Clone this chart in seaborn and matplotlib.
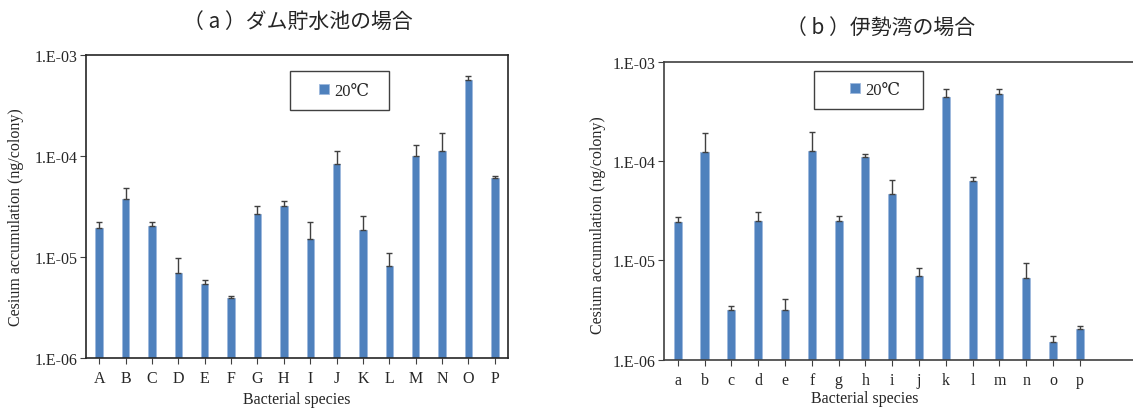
import numpy as np
import pandas as pd
import matplotlib
matplotlib.use("Agg")
import matplotlib.pyplot as plt
import seaborn as sns
from matplotlib.patches import Rectangle
from matplotlib.ticker import FixedLocator, FuncFormatter, NullLocator

# ---------------- data ----------------
species_a = list("ABCDEFGHIJKLMNOP")
values_a = [1.92e-5, 3.75e-5, 2.03e-5, 6.9e-6, 5.45e-6, 3.9e-6, 2.67e-5, 3.22e-5,
            1.51e-5, 8.27e-5, 1.86e-5, 8.1e-6, 9.93e-5, 1.12e-4, 5.62e-4, 6.01e-5]
errtop_a = [2.22e-5, 4.85e-5, 2.2e-5, 9.7e-6, 5.9e-6, 4.08e-6, 3.22e-5, 3.6e-5,
            2.22e-5, 1.11e-4, 2.52e-5, 1.1e-5, 1.28e-4, 1.68e-4, 6.24e-4, 6.38e-5]

species_b = list("abcdefghijklmnop")
values_b = [2.44e-5, 1.24e-4, 3.14e-6, 2.51e-5, 3.14e-6, 1.26e-4, 2.51e-5, 1.09e-4,
            4.66e-5, 7.0e-6, 4.45e-4, 6.3e-5, 4.71e-4, 6.7e-6, 1.52e-6, 2.02e-6]
errtop_b = [2.73e-5, 1.9e-4, 3.45e-6, 3.05e-5, 4.08e-6, 1.95e-4, 2.82e-5, 1.17e-4,
            6.4e-5, 8.3e-6, 5.28e-4, 6.87e-5, 5.28e-4, 9.35e-6, 1.72e-6, 2.2e-6]

title_a = "（ a ）ダム貯水池の場合"
title_b = "（ b ）伊勢湾の場合"
legend_label = "20℃"
xlabel = "Bacterial species"
ylabel = "Cesium accumulation (ng/colony)"
yticks = [1e-6, 1e-5, 1e-4, 1e-3]

# ---------------- style ----------------
sns.set_theme(style="white")
plt.rcParams["font.family"] = ["Liberation Serif", "DejaVu Serif"]
bar_color = "#4F81BD"
cjk = ["Noto Sans CJK JP", "DejaVu Sans"]

fig = plt.figure(figsize=(11.33, 4.10), dpi=100)
ax1 = fig.add_axes([0.0759, 0.1244, 0.3725, 0.739])
ax2 = fig.add_axes([0.5863, 0.1202, 0.4137, 0.7268])


def draw(ax, species, values, errtop, xmax, bar_w, spine_color,
         box, marker_anchor, ylab_xy, xlab_xy):
    df = pd.DataFrame({"species": species, "value": values})
    ax.set_yscale("log")
    sns.barplot(data=df, x="species", y="value", color=bar_color, width=bar_w,
                saturation=1, edgecolor="#9DB9DD", linewidth=0.6,
                label=legend_label, ax=ax)
    x = np.arange(len(species))
    yerr_up = np.array(errtop) - np.array(values)
    ax.errorbar(x, values, yerr=[np.zeros_like(yerr_up), yerr_up], fmt="none",
                ecolor="#404040", elinewidth=1.0, capsize=2, capthick=1.0)
    ax.set_ylim(1e-6, 1e-3)
    ax.set_xlim(-0.5, xmax)
    ax.yaxis.set_major_locator(FixedLocator(yticks))
    ax.yaxis.set_minor_locator(NullLocator())
    ax.yaxis.set_major_formatter(FuncFormatter(
        lambda v, p: "1.E-%02d" % int(round(-np.log10(v)))))
    ax.tick_params(axis="both", which="major", direction="out", length=4,
                   width=0.8, color="#404040", labelsize=11.5, pad=5)
    ax.tick_params(axis="y", labelsize=11.5, pad=2)
    ax.tick_params(left=True, bottom=True)
    ax.set_xlabel(xlabel, fontsize=11.5)
    ax.set_ylabel(ylabel, fontsize=11.5)
    ax.yaxis.set_label_coords(*ylab_xy)
    ax.xaxis.set_label_coords(*xlab_xy)
    for s in ax.spines.values():
        s.set_color(spine_color)
        s.set_linewidth(1.2)
    # legend frame box
    x0, y0, x1, y1 = box
    ax.add_patch(Rectangle((x0, y0), x1 - x0, y1 - y0, transform=ax.transAxes,
                           fill=True, facecolor="white", edgecolor="#404040",
                           linewidth=1.0, zorder=5, clip_on=False))
    leg = ax.legend(loc="center left", bbox_to_anchor=marker_anchor,
                    fontsize=12, frameon=False,
                    handlelength=0.6, handleheight=0.6, handletextpad=0.3,
                    borderpad=0, borderaxespad=0)
    leg.set_zorder(6)
    return ax


draw(ax1, species_a, values_a, errtop_a, 15.5, 0.28, "#262626",
     (0.483, 0.818, 0.718, 0.947), (0.552, 0.881), (-0.147, 0.469),
     (0.5, -0.108))
draw(ax2, species_b, values_b, errtop_b, 16.98, 0.30, "#404040",
     (0.319, 0.841, 0.552, 0.969), (0.396, 0.905), (-0.124, 0.455),
     (0.428, -0.10))
ax2.spines["right"].set_visible(False)

fig.text(0.263, 0.946, title_a, ha="center", va="center", fontsize=15,
         family=cjk)
fig.text(0.777, 0.932, title_b, ha="center", va="center", fontsize=15,
         family=cjk)

fig.savefig("out.png", dpi=100)
